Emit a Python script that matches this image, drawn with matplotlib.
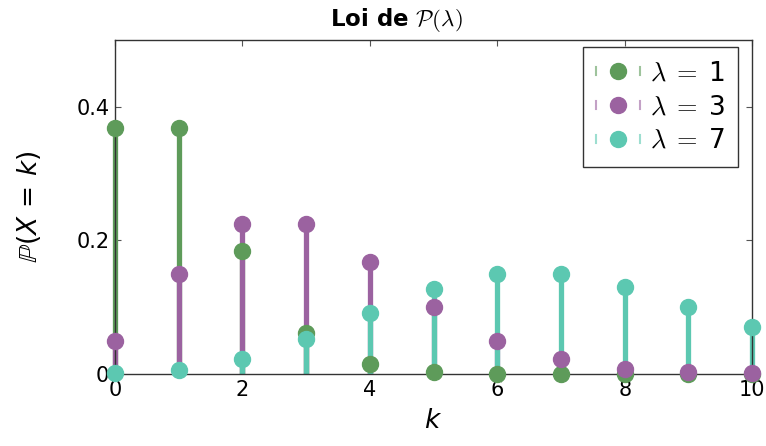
import matplotlib
matplotlib.use("Agg")
import matplotlib.pyplot as plt
from matplotlib.lines import Line2D
from matplotlib.legend_handler import HandlerBase

# Poisson probabilities, k = 0..10
k_values = [0, 1, 2, 3, 4, 5, 6, 7, 8, 9, 10]
p_lambda1 = [0.368, 0.368, 0.184, 0.061, 0.015, 0.003, 0.0005, 0.0001, 0.0, 0.0, 0.0]
p_lambda3 = [0.050, 0.149, 0.224, 0.224, 0.168, 0.101, 0.050, 0.022, 0.008, 0.003, 0.001]
p_lambda7 = [0.001, 0.006, 0.022, 0.052, 0.091, 0.128, 0.149, 0.149, 0.130, 0.101, 0.071]
labels = [r"$\lambda\;=\;$1", r"$\lambda\;=\;$3", r"$\lambda\;=\;$7"]
colors = ["#5e9b5a", "#9b62a0", "#5cc8b1"]

plt.rcParams["font.family"] = ["DejaVu Sans"]
plt.rcParams["mathtext.fontset"] = "cm"


class CombHandler(HandlerBase):
    # small comb marks at both ends, marker in the middle
    def create_artists(self, legend, orig, xd, yd, width, height, fontsize, trans):
        c = orig.get_color()
        arts = []
        for x in (0, width):
            arts.append(Line2D([x - xd, x - xd], [height * 0.3 - yd, height * 0.7 - yd],
                               color=c, lw=1.5, alpha=0.6, transform=trans))
        arts.append(Line2D([width / 2 - xd], [height / 2 - yd], marker="o", ms=11.5,
                           color=c, ls="none", transform=trans))
        return arts


fig = plt.figure(figsize=(7.66, 4.46), dpi=100)
ax = fig.add_axes([0.150, 0.1614, 0.832, 0.7489])

handles = []
for probs, col in zip([p_lambda1, p_lambda3, p_lambda7], colors):
    ax.vlines(k_values, 0, probs, colors=col, lw=3.8, clip_on=False, zorder=2)
    h, = ax.plot(k_values, probs, "o", color=col, ms=11.5, clip_on=False, zorder=3)
    handles.append(h)

ax.set_xlim(0, 10)
ax.set_ylim(0, 0.5)
ax.set_xticks([0, 2, 4, 6, 8, 10])
ax.set_yticks([0, 0.2, 0.4])
ax.set_yticklabels(["0", "0.2", "0.4"])
ax.tick_params(direction="in", length=4, width=0.8, color="#555555",
               top=True, right=True, labelsize=15, pad=4)
for s in ax.spines.values():
    s.set_color("#333333")
    s.set_linewidth(1.0)

ax.set_xlabel(r"$k$", fontsize=19, labelpad=6, math_fontfamily="dejavusans")
ax.set_ylabel(r"$\mathbb{P}(X\,=\,k)$", fontsize=19, labelpad=24,
              math_fontfamily="dejavusans")
fig.text(0.518, 0.955, r"Loi de $\mathcal{P}(\lambda)$", ha="center", va="center",
         fontsize=16.5, fontweight="bold")

leg = ax.legend(handles, labels, loc="upper right", bbox_to_anchor=(0.978, 0.979),
                fontsize=19, handler_map={Line2D: CombHandler()}, handlelength=1.65,
                fancybox=False, edgecolor="#333333", framealpha=1,
                borderaxespad=0, borderpad=0.5, labelspacing=0.3,
                handletextpad=0.4)
leg.get_frame().set_linewidth(1.0)

fig.savefig("out.png", dpi=100)
